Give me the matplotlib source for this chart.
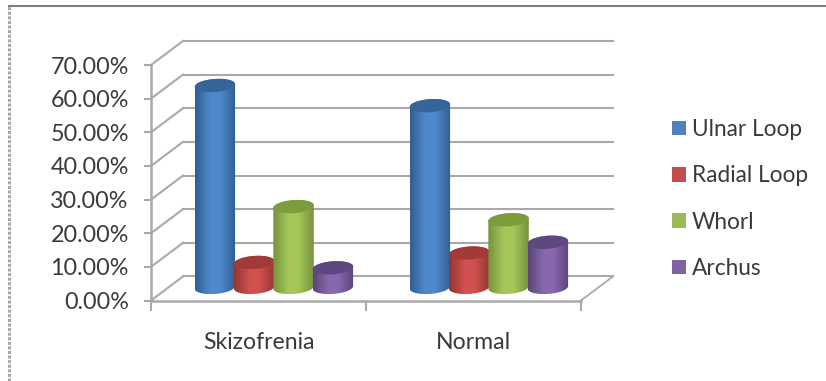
import matplotlib

matplotlib.use("Agg")

import matplotlib.pyplot as plt
import numpy as np
from matplotlib.colors import LinearSegmentedColormap
from matplotlib.lines import Line2D
from matplotlib.patches import Patch, PathPatch, Polygon
from matplotlib.path import Path as MplPath
from matplotlib.ticker import PercentFormatter

CATEGORIES = ["Skizofrenia", "Normal"]
SERIES = ["Ulnar Loop", "Radial Loop", "Whorl", "Archus"]
ULNAR_LOOP = [60.0, 54.0]
RADIAL_LOOP = [7.4, 10.2]
WHORL = [24.0, 20.1]
ARCHUS = [5.8, 13.4]
Y_TICKS = [0, 10, 20, 30, 40, 50, 60, 70]

# edge, middle, top cap
BAR_COLORS = [
    ("#2f5f93", "#5089cb", "#36659b"),
    ("#943633", "#d0514e", "#a23a37"),
    ("#76923c", "#a5c75a", "#7c9c3f"),
    ("#5c4678", "#8768ae", "#5f4880"),
]
LEGEND_COLORS = ["#4f81bd", "#c0504d", "#9bbb59", "#8064a2"]
GRID_COLOR = "#a9a9a9"
TEXT_COLOR = "#3a3a3a"

# 3d look: how far the back wall sits from the front plane, in data units
DEPTH_X = 0.149
DEPTH_Y = 7.15
BAR_START = 0.297
BAR_STEP = 0.183
BAR_HALF = 0.094
BAR_BASE = 3.9
CAP_HALF = 1.95
CAP_TILT = 0.4


def ellipse_points(cx, cy, start, stop):
    t = np.linspace(start, stop, 60)
    x = cx + BAR_HALF * np.cos(t)
    y = cy + CAP_HALF * np.sin(t) + CAP_TILT * np.cos(t)
    return np.column_stack([x, y])


def draw_cylinder(ax, cx, value, colors, zorder):
    edge, mid, cap = colors
    top = BAR_BASE + value
    lower = ellipse_points(cx, BAR_BASE, np.pi, 2 * np.pi)
    upper = ellipse_points(cx, top, 0, np.pi)
    body = np.vstack([lower, upper, lower[:1]])

    cmap = LinearSegmentedColormap.from_list(
        "cyl", [(0, edge), (0.38, mid), (0.62, mid), (1, edge)]
    )
    image = ax.imshow(
        np.linspace(0, 1, 64).reshape(1, -1),
        cmap=cmap,
        aspect="auto",
        extent=(cx - BAR_HALF, cx + BAR_HALF, 0, top + CAP_HALF + 1),
        zorder=zorder,
        clip_on=True,
    )
    clip = PathPatch(MplPath(body), transform=ax.transData)
    image.set_clip_path(clip)

    full = ellipse_points(cx, top, 0, 2 * np.pi)
    ax.add_patch(Polygon(full, closed=True, facecolor=cap, edgecolor="none",
                         zorder=zorder + 0.1, clip_on=False))


def draw_walls(ax):
    for tick in Y_TICKS:
        ax.plot([0, DEPTH_X], [tick, tick + DEPTH_Y], color=GRID_COLOR, lw=1.5,
                clip_on=False, zorder=1)
        ax.plot([DEPTH_X, 2 + DEPTH_X], [tick + DEPTH_Y, tick + DEPTH_Y],
                color=GRID_COLOR, lw=1.5, clip_on=False, zorder=1)
    ax.plot([2, 2 + DEPTH_X], [0, DEPTH_Y], color=GRID_COLOR, lw=1.3,
            clip_on=False, zorder=1)


def main():
    plt.rcParams["font.family"] = ["Lato", "DejaVu Sans"]

    fig = plt.figure(figsize=(8.26, 3.81), dpi=100)
    ax = fig.add_axes([151 / 826, 1 - 300.5 / 381, 430 / 826, 235.5 / 381])
    ax.patch.set_visible(False)

    draw_walls(ax)

    all_values = [ULNAR_LOOP, RADIAL_LOOP, WHORL, ARCHUS]
    for group in range(len(CATEGORIES)):
        for i, values in enumerate(all_values):
            cx = group + BAR_START + i * BAR_STEP
            draw_cylinder(ax, cx, values[group], BAR_COLORS[i], 3 + i)

    ax.set_xlim(0, 2)
    ax.set_ylim(0, 70)

    ax.set_yticks(Y_TICKS)
    ax.yaxis.set_major_formatter(PercentFormatter(decimals=2))
    ax.tick_params(axis="y", length=5, width=1.5, color=GRID_COLOR, pad=11,
                   labelsize=16.8, labelcolor=TEXT_COLOR)

    ax.set_xticks([0, 1, 2])
    ax.set_xticklabels([])
    ax.set_xticks([0.5, 1.5], minor=True)
    ax.set_xticklabels(CATEGORIES, minor=True)
    ax.tick_params(axis="x", which="major", length=7, width=1.5, color=GRID_COLOR)
    ax.tick_params(axis="x", which="minor", length=0, pad=23, labelsize=16.6,
                   labelcolor=TEXT_COLOR)

    for side in ["top", "right"]:
        ax.spines[side].set_visible(False)
    for side in ["left", "bottom"]:
        ax.spines[side].set_color(GRID_COLOR)
        ax.spines[side].set_linewidth(1.8)

    handles = [Patch(facecolor=c, edgecolor="none") for c in LEGEND_COLORS]
    fig.legend(
        handles,
        SERIES,
        loc="upper left",
        bbox_to_anchor=(672 / 826, 1 - 119 / 381),
        frameon=False,
        fontsize=16.3,
        labelcolor=TEXT_COLOR,
        handlelength=0.62,
        handleheight=0.62,
        handletextpad=0.26,
        labelspacing=1.12,
        borderpad=0,
        borderaxespad=0,
    )

    # outer chart frame, cut off by the image at the right and bottom
    fig.add_artist(Line2D([8.5 / 826, 1], [1 - 6 / 381, 1 - 6 / 381], color="#7f7f7f", lw=1.5))
    fig.add_artist(Line2D([8.5 / 826, 8.5 / 826], [0, 1 - 6 / 381], color="#a8a8a8", lw=2.2,
                          linestyle=(0, (1, 0.5))))

    fig.savefig("out.png", dpi=100)
    plt.close(fig)


if __name__ == "__main__":
    main()
